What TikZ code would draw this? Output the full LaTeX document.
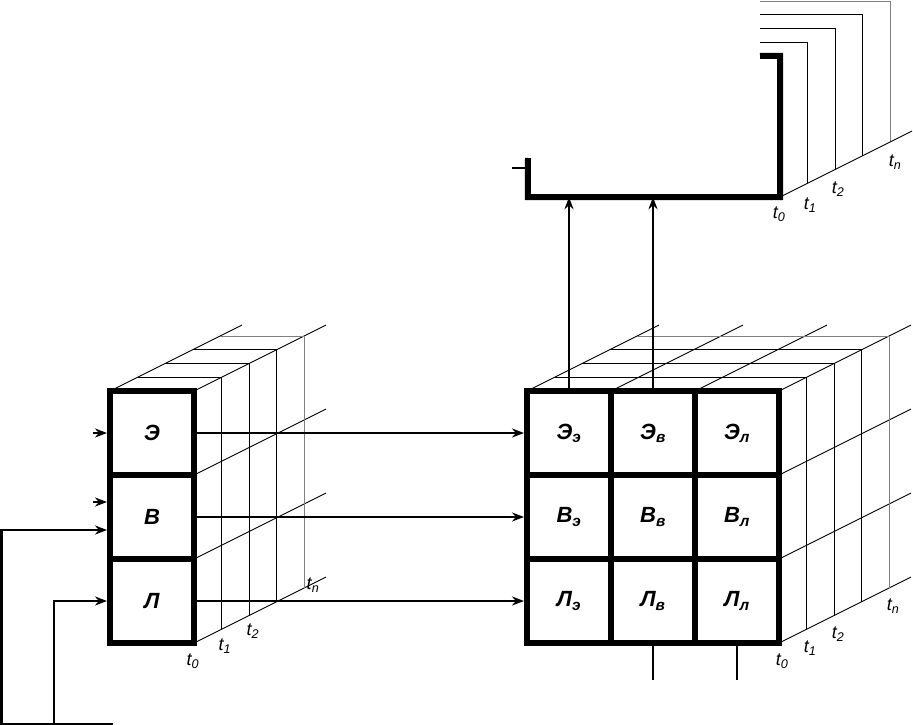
\documentclass[tikz,border=0pt]{standalone}
\usepackage{fontspec}
\setmainfont{Liberation Sans}
\usetikzlibrary{arrows.meta,positioning}
\newcommand{\cellfont}{\fontsize{22}{24}\selectfont\bfseries\itshape}
\newcommand{\tfont}{\fontsize{18}{20}\selectfont\itshape}
\newcommand{\tk}[1]{t\textsubscript{#1}}
\tikzset{
  cell/.style={draw,line width=6pt,minimum size=84pt,inner sep=0pt,font=\cellfont},
  slice/.style={line width=0.9pt},
  arr/.style={-{Stealth[length=12pt,width=9pt]},line width=2.8pt},
  tlab/.style={font=\tfont,inner sep=0pt}
}
\begin{document}
\begin{tikzpicture}[x=1pt,y=-1pt]
\useasboundingbox (0,0) rectangle (913,725);
% left cube, depth
\foreach \p in {(110,391),(194,391),(194,475),(194,559),(194,643)}
  \draw[slice] \p -- ++(132,-66);
\foreach \k in {1,2,3}
  \draw[slice] ({110+27.5*\k},{391-13.75*\k}) -- ({194+27.5*\k},{391-13.75*\k}) -- ({194+27.5*\k},{643-13.75*\k});
\draw[slice,gray] (220,336) -- (304,336) -- (304,588);
% right cube, depth
\foreach \p in {(527,391),(611,391),(695,391),(779,391),(779,475),(779,559),(779,643)}
  \draw[slice] \p -- ++(132,-66);
\foreach \k in {1,2,3}
  \draw[slice] ({527+27.5*\k},{391-13.75*\k}) -- ({779+27.5*\k},{391-13.75*\k}) -- ({779+27.5*\k},{643-13.75*\k});
\draw[slice,gray] (637,336) -- (889,336) -- (889,588);
% top box, depth
\foreach \k in {1,2,3}
  \draw[slice] (760,{56-13.75*\k}) -- ({780+27.5*\k},{56-13.75*\k}) -- ({780+27.5*\k},{197-13.75*\k});
\draw[slice,gray] (760,1) -- (890,1) -- (890,142);
\draw[slice] (780,197) -- ++(132,-66);

% left cube
\node[cell] (lE) at (152,433) {Э};
\node[cell] (lB) at (152,517) {В};
\node[cell] (lL) at (152,601) {Л};
% right cube
\node[cell] (rEe) at (569,433) {Э\textsubscript{э}};
\node[cell] (rEv) at (653,433) {Э\textsubscript{в}};
\node[cell] (rEl) at (737,433) {Э\textsubscript{л}};
\node[cell] (rBe) at (569,517) {В\textsubscript{э}};
\node[cell] (rBv) at (653,517) {В\textsubscript{в}};
\node[cell] (rBl) at (737,517) {В\textsubscript{л}};
\node[cell] (rLe) at (569,601) {Л\textsubscript{э}};
\node[cell] (rLv) at (653,601) {Л\textsubscript{в}};
\node[cell] (rLl) at (737,601) {Л\textsubscript{л}};
% top box
\node[minimum width=252pt,minimum height=141pt,inner sep=0pt] (box) at (654,126.5) {};
\draw[line width=6pt] (528,158) -- (box.south west) -- (box.south east) -- (box.north east) -- (760,56);
\draw[line width=2.5pt] (512,168) -- (528,168);

% connectors
\draw[arr] (lE) -- (rEe);
\draw[arr] (lB) -- (rBe);
\draw[arr] (lL) -- (rLe);
\draw[arr] (rEe.north) -- (rEe.north |- box.south);
\draw[arr] (rEv.north) -- (rEv.north |- box.south);
\draw[line width=2.8pt] (rLv.south) -- ++(0,34);
\draw[line width=2.8pt] (rLl.south) -- ++(0,34);
% inputs
\coordinate (inE) at (93,433);
\coordinate (inB) at (93,502);
\coordinate (fbB) at (1.5,724);
\coordinate (fbL) at (54,724);
\draw[arr] (inE) -- (lE);
\draw[arr] (inB) -- (inB -| lB.west);
\draw[arr] (fbB) |- ([yshift=-13pt]lB.west);
\draw[arr] (fbL) |- (lL.west);
\draw[line width=1.5pt] (0,724) -- (113,724);

% time labels
\node[tlab] (tL0) at (193,661) {\tk{0}};
\node[tlab] (tL1) at (225,646) {\tk{1}};
\node[tlab] (tL2) at (253,631) {\tk{2}};
\node[tlab] (tLn) at (313,585) {\tk{n}};
\node[tlab] (tR0) at (782,661) {\tk{0}};
\node[tlab] (tR1) at (810,648) {\tk{1}};
\node[tlab] (tR2) at (838,634) {\tk{2}};
\node[tlab] (tRn) at (893,606) {\tk{n}};
\node[tlab] (tT0) at (779,214) {\tk{0}};
\node[tlab] (tT1) at (810,205) {\tk{1}};
\node[tlab] (tT2) at (838,189) {\tk{2}};
\node[tlab] (tTn) at (895,162) {\tk{n}};
\end{tikzpicture}
\end{document}
